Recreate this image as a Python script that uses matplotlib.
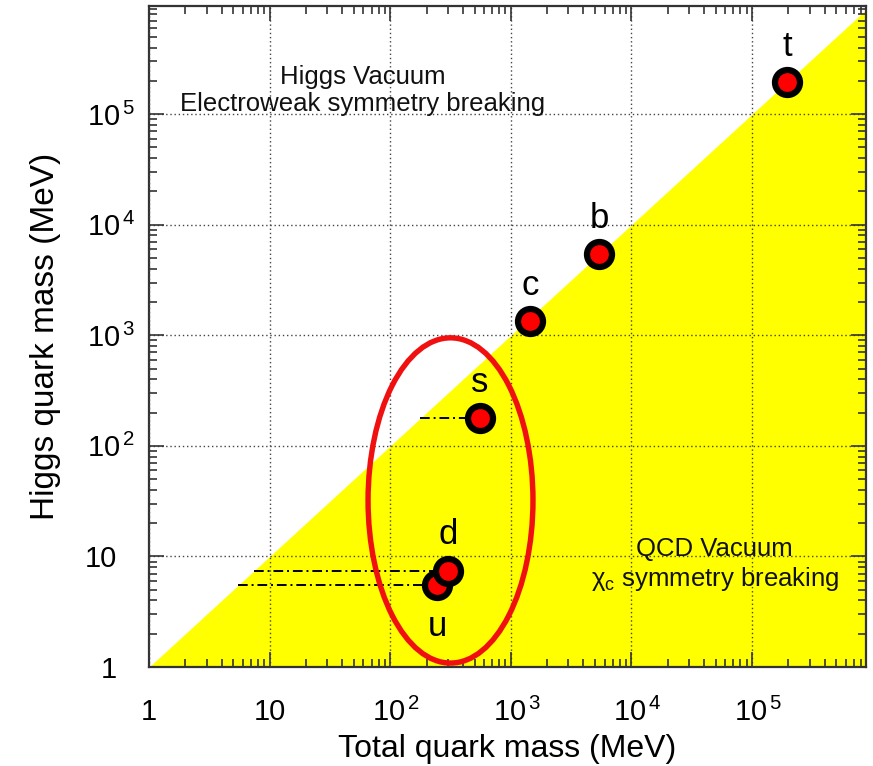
import numpy as np
import matplotlib
matplotlib.use("Agg")
import matplotlib.pyplot as plt
from matplotlib.patches import Ellipse
from matplotlib.transforms import ScaledTranslation
from matplotlib.ticker import FixedLocator, FixedFormatter, LogLocator

plt.rcParams['font.family'] = ['Liberation Sans', 'DejaVu Sans']
plt.rcParams['mathtext.fontset'] = 'custom'
plt.rcParams['mathtext.rm'] = 'Liberation Sans'
plt.rcParams['mathtext.it'] = 'Liberation Sans'

# quark data (MeV): total mass vs Higgs-generated mass
quarks = ['u', 'd', 's', 'c', 'b', 't']
total_mass = [244, 302, 555, 1440, 5400, 1.95e5]
higgs_mass = [5.5, 7.4, 178, 1340, 5420, 1.95e5]
label_below = [True, False, False, False, False, False]
# quarks with a dash-dot line from the diagonal
lined = ['u', 'd', 's']

xmax, ymax = 8.8e5, 9.5e5
major = [1, 10, 1e2, 1e3, 1e4, 1e5]
exps = ['', '', '2', '3', '4', '5']

# x labels: "10" roughly centred on the tick
xlabels, ylabels = [], []
for m, e in zip(major, exps):
    base = '1' if m == 1 else '10'
    if e:
        xlabels.append(r'$\enspace 10^{\,%s}$' % e)
        ylabels.append(r'$10^{\,%s}$' % e)
    else:
        xlabels.append(base)
        ylabels.append(base)

fig = plt.figure(figsize=(8.73, 7.66), dpi=100)
ax = fig.add_axes([0.1707, 0.1292, 0.8213, 0.8630])
ax.set_xscale('log')
ax.set_yscale('log')
ax.set_xlim(1, xmax)
ax.set_ylim(1, ymax)

# QCD region below the diagonal
xx = np.logspace(0, np.log10(xmax), 200)
ax.fill_between(xx, 1, xx, color='#ffff00', lw=0, zorder=1)

ax.grid(True, which='major', ls=(0, (1, 2)), color='#444444', lw=1.0, zorder=2)
ax.set_axisbelow(False)

for q, tm, hm in zip(quarks, total_mass, higgs_mass):
    if q in lined:
        ax.plot([hm, tm], [hm, hm], color='black', lw=1.4, ls=(0, (5, 2, 1, 2)), zorder=3)

ax.plot(total_mass, higgs_mass, 'o', ms=18, mfc='#ff0000', mec='black', mew=4.5,
        ls='none', zorder=4)

for q, tm, hm, below in zip(quarks, total_mass, higgs_mass, label_below):
    if below:
        ax.annotate(q, (tm, hm), xytext=(0, -18), textcoords='offset points',
                    ha='center', va='top', fontsize=25, zorder=5)
    else:
        ax.annotate(q, (tm, hm), xytext=(0, 14), textcoords='offset points',
                    ha='center', va='bottom', fontsize=25, zorder=5)

ax.text(0.298, 0.872, 'Higgs Vacuum\nElectroweak symmetry breaking', transform=ax.transAxes,
        ha='center', va='center', fontsize=18.5, linespacing=1.2, color='#111111', zorder=5)
ax.text(0.789, 0.154, 'QCD Vacuum\n' + r'$\chi_{\rm c}$' + ' symmetry breaking',
        transform=ax.transAxes, ha='center', va='center', fontsize=18.5, linespacing=1.2,
        color='#111111', zorder=5)

ax.add_patch(Ellipse((0.4205, 0.252), 0.230, 0.492, transform=ax.transAxes, fill=False,
                     ec='#f01010', lw=3.9, zorder=6, clip_on=False))

ax.xaxis.set_major_locator(FixedLocator(major))
ax.xaxis.set_major_formatter(FixedFormatter(xlabels))
ax.yaxis.set_major_locator(FixedLocator(major))
ax.yaxis.set_major_formatter(FixedFormatter(ylabels))
for axis in (ax.xaxis, ax.yaxis):
    axis.set_minor_locator(LogLocator(base=10, subs=np.arange(2, 10), numticks=20))
    axis.set_minor_formatter(FixedFormatter([]))

ax.tick_params(which='both', direction='in', top=True, right=True, color='#333333', width=1.2)
ax.tick_params(which='major', length=11, labelsize=21)
ax.tick_params(which='minor', length=6)
ax.tick_params(axis='x', which='major', pad=22)
ax.tick_params(axis='y', which='major', pad=10)

# line up plain "1" and "10" with the "10" of the powers on the y axis
shift = ScaledTranslation(-0.18, 0, fig.dpi_scale_trans)
for tick in ax.yaxis.get_major_ticks()[:2]:
    tick.label1.set_transform(tick.label1.get_transform() + shift)

for s in ax.spines.values():
    s.set_linewidth(1.6)
    s.set_color('#333333')

ax.set_xlabel('Total quark mass (MeV)', fontsize=23)
ax.set_ylabel('Higgs quark mass (MeV)', fontsize=24)
ax.xaxis.set_label_coords(0.5, -0.102)
ax.yaxis.set_label_coords(-0.123, 0.5)

fig.savefig('out.png', dpi=100)
